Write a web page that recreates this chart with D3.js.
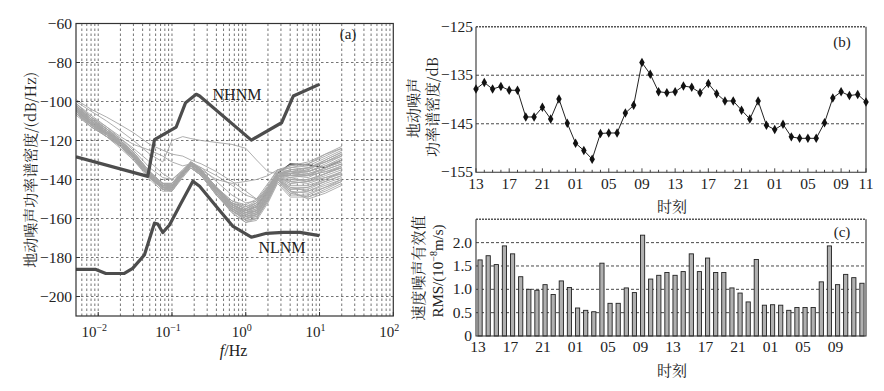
<!DOCTYPE html>
<html><head><meta charset="utf-8">
<script src="https://cdn.jsdelivr.net/npm/d3@7/dist/d3.min.js"></script>
<style>
body{margin:0;background:#fff}
svg{display:block}
text{font-family:"Liberation Serif","Times New Roman",serif;fill:#222}
.cjk{font-family:"Noto Serif CJK SC","Noto Sans CJK SC",sans-serif}
</style>
</head><body>
<svg id="chart" width="884" height="391"></svg>
<script>
// ---------- Panel (a) data ----------
const nhnmF  = [0.005, 0.047, 0.058, 0.114, 0.153, 0.213, 0.237, 1.19, 3.06, 4.41, 9.95];
const nhnmDB = [-128.4, -138.4, -119.5, -113.1, -100.6, -96.3, -97.2, -119.8, -110.9, -97.2, -91.2];
const nlnmF  = [0.005, 0.0093, 0.0127, 0.0226, 0.0293, 0.0423, 0.0578, 0.0642, 0.075, 0.0925, 0.133, 0.192, 0.237, 0.399, 0.673, 1.19, 1.91, 3.22, 5.43, 9.95];
const nlnmDB = [-186.1, -186.1, -188.2, -188.2, -185.6, -178.7, -162.4, -162.8, -167.2, -163.3, -152.1, -140.9, -143.5, -153.8, -164.1, -169.6, -167.6, -167.1, -167.1, -168.8];
const grayFreqs = [0.005, 0.008, 0.013, 0.02, 0.03, 0.05, 0.075, 0.1, 0.14, 0.18, 0.25, 0.4, 0.65, 1, 1.4, 2, 2.7, 4, 7, 12, 20];
const grayCurves = [
  [-102,-109,-115,-120,-127,-137,-142,-142,-136,-132,-135,-144,-151,-154,-152,-144,-136,-134,-133,-129,-125],
  [-104,-111,-116,-122,-128,-138,-144,-144,-137,-133,-137,-146,-154,-158,-157,-148,-139,-141,-140,-137,-134],
  [-106,-112,-117,-123,-129,-139,-145,-145,-138,-133,-137,-147,-156,-161,-160,-151,-141,-147,-146,-143,-140],
  [-103,-110,-115,-121,-127,-137,-143,-143,-137,-132,-136,-145,-153,-156,-153,-145,-137,-137,-136,-132,-128],
  [-105,-112,-117,-122,-128,-139,-145,-144,-138,-133,-137,-146,-155,-160,-159,-150,-140,-145,-145,-141,-138],
  [-101,-108,-114,-120,-126,-136,-142,-142,-135,-131,-135,-144,-152,-155,-152,-144,-136,-133,-132,-128,-124],
  [-107,-113,-118,-124,-130,-140,-146,-146,-139,-134,-138,-148,-157,-162,-161,-152,-142,-149,-149,-145,-141],
  [-104,-110,-116,-121,-128,-138,-143,-143,-137,-132,-136,-145,-152,-155,-152,-144,-137,-136,-135,-131,-127],
  [-105,-111,-117,-122,-129,-138,-144,-145,-138,-133,-137,-147,-155,-159,-158,-149,-139,-143,-143,-140,-137],
  [-103,-110,-116,-121,-127,-137,-143,-144,-137,-132,-136,-145,-154,-157,-155,-147,-138,-139,-138,-134,-131],
  [-106,-113,-118,-123,-130,-139,-145,-145,-138,-133,-138,-147,-156,-160,-159,-150,-140,-146,-147,-144,-141],
  [-102,-109,-115,-120,-126,-136,-142,-143,-136,-131,-135,-144,-152,-154,-151,-143,-135,-134,-132,-127,-123],
  [-104,-111,-117,-122,-128,-138,-144,-144,-137,-133,-137,-146,-153,-156,-154,-146,-138,-138,-137,-134,-130],
  [-105,-112,-116,-122,-129,-139,-144,-145,-138,-133,-137,-146,-155,-159,-157,-149,-140,-144,-144,-141,-138],
  [-103,-110,-115,-121,-127,-137,-143,-143,-136,-132,-136,-145,-153,-157,-155,-146,-137,-136,-134,-130,-126],
  [-106,-112,-118,-123,-129,-139,-145,-146,-138,-133,-138,-148,-156,-161,-160,-151,-141,-148,-148,-144,-140],
  [-104,-110,-116,-122,-128,-138,-143,-144,-137,-132,-136,-146,-154,-158,-156,-147,-138,-140,-140,-137,-134],
  [-102,-108,-114,-120,-126,-137,-142,-142,-136,-131,-135,-144,-151,-153,-150,-142,-135,-133,-131,-127,-124],
  [-103,-111,-117,-121,-128,-138,-144,-145,-137,-132,-136,-146,-155,-159,-157,-148,-138,-142,-141,-138,-135],
  [-104,-110,-115,-121,-127,-138,-143,-143,-136,-132,-136,-145,-153,-156,-153,-145,-137,-137,-138,-134,-131],
  [-105,-111,-117,-123,-129,-139,-144,-145,-138,-133,-137,-147,-156,-160,-158,-149,-139,-144,-146,-142,-139],
  [-102,-110,-116,-121,-127,-137,-142,-143,-136,-131,-135,-145,-153,-156,-154,-146,-137,-135,-134,-131,-127],
  [-106,-112,-118,-122,-129,-139,-145,-146,-138,-134,-138,-147,-157,-162,-160,-150,-140,-147,-149,-146,-142],
  [-103,-109,-115,-120,-127,-137,-143,-143,-136,-132,-136,-145,-152,-155,-153,-145,-137,-136,-136,-133,-129],
  [-105,-112,-117,-123,-128,-138,-144,-145,-137,-133,-137,-146,-154,-158,-156,-147,-138,-141,-142,-139,-136],
  [-104,-111,-116,-122,-128,-138,-144,-144,-137,-132,-136,-146,-155,-159,-158,-149,-139,-145,-144,-140,-136],
  [-103,-110,-116,-121,-128,-137,-143,-144,-137,-132,-136,-145,-154,-157,-156,-147,-138,-138,-139,-135,-132],
  [-105,-111,-116,-122,-129,-138,-144,-144,-138,-133,-137,-147,-155,-158,-156,-148,-139,-142,-141,-137,-133],
  [-101,-108,-113,-119,-125,-134,-139,-140,-135,-131,-134,-141,-148,-152,-151,-145,-137,-135,-134,-131,-128],
  [-104,-110,-115,-121,-128,-138,-143,-143,-137,-132,-136,-146,-154,-157,-154,-146,-137,-139,-141,-139,-137],
  [-106,-113,-117,-123,-129,-139,-145,-145,-138,-134,-138,-148,-156,-160,-158,-149,-140,-146,-150,-147,-143],
  [-102,-109,-114,-120,-126,-136,-142,-143,-136,-131,-135,-144,-153,-157,-156,-147,-137,-137,-135,-130,-126],
  [-99,-104,-108,-112,-116,-122,-125,-127,-128,-130,-132,-136,-141,-146,-150,-146,-139,-137,-136,-133,-130],
  [-100,-105,-110,-115,-120,-127,-131,-120,-118,-119,-120,-121,-122,-124,-130,-136,-137,-138,-137,-135,-132],
  [-101,-107,-113,-118,-122,-125,-128,-131,-133,-132,-134,-138,-143,-148,-150,-144,-137,-138,-138,-136,-133],
  [-103,-109,-114,-119,-124,-131,-137,-140,-136,-132,-135,-140,-142,-141,-140,-138,-135,-136,-138,-136,-134]
];
const darkCurve = [-104,-111,-116,-121,-128,-138,-144,-144,-137,-132,-136,-145,-153,-156,-154,-146,-137,-132,-132.5,-134,-130];
const aYTicks = [-60, -80, -100, -120, -140, -160, -180, -200];
const aXTicks = [0.01, 0.1, 1, 10, 100];
const aXExp = ["\u22122", "\u22121", "0", "1", "2"];

// ---------- Panel (b) / (c) data ----------
const psdDB = [-137.85,-136.5,-137.85,-137.3,-138.1,-138.1,-143.6,-143.6,-141.6,-144.0,-139.9,-144.9,
  -149.0,-150.5,-152.3,-147.0,-146.9,-146.9,-142.8,-141.2,-132.4,-134.8,-138.4,-138.6,
  -138.4,-137.2,-137.5,-138.6,-136.7,-138.8,-140.3,-140.3,-142.2,-144.0,-140.3,-145.3,
  -146.2,-145.1,-147.7,-148.0,-148.0,-148.0,-144.8,-139.7,-138.4,-139.2,-138.95,-140.5];
const rmsVel = [1.63,1.72,1.53,1.93,1.76,1.27,1.00,0.98,1.10,0.89,1.18,1.04,
  0.60,0.55,0.52,1.56,0.70,0.70,1.03,0.93,2.16,1.22,1.30,1.36,
  1.30,1.38,1.76,1.38,1.67,1.36,1.36,1.03,0.92,0.73,1.64,0.66,
  0.67,0.66,0.55,0.61,0.61,0.61,1.16,1.93,1.10,1.32,1.25,1.13];
const bTickIdx = [0,4,8,12,16,20,24,28,32,36,40,44,47];
const bTickLabels = ["13","17","21","01","05","09","13","17","21","01","05","09","11"];
const cTickIdx = [0,4,8,12,16,20,24,28,32,36,40,44];
const cTickLabels = ["13","17","21","01","05","09","13","17","21","01","05","09"];
const bYTicks = [-125, -135, -145, -155];
const bGrid = [-135, -145];
const cYTicks = [0, 0.5, 1.0, 1.5, 2.0];
const cYLabels = ["0", "0.5", "1.0", "1.5", "2.0"];

const svg = d3.select("#chart");
const fmtMinus = v => String(v).replace("-", "\u2212");

// ================= Panel (a) =================
(function(){
  const L=76, R=393.3, T=23.5, B=316;
  const x = d3.scaleLog().domain([0.005, 100]).range([L, R]);
  const y = d3.scaleLinear().domain([-210, -60]).range([B, T]);
  const g = svg.append("g");
  svg.append("defs").append("clipPath").attr("id","clipA")
    .append("rect").attr("x",L).attr("y",T).attr("width",R-L).attr("height",B-T);
  const vlines = [];
  for (let e=-3; e<=1; e++) for (let k=1; k<=9; k++) {
    const v = k*Math.pow(10,e);
    if (v > 0.005*1.001 && v < 100*0.999) vlines.push(v);
  }
  g.selectAll(".vg").data(vlines).join("line")
    .attr("x1", d=>x(d)).attr("x2", d=>x(d)).attr("y1", T).attr("y2", B)
    .attr("stroke", "#3a3a3a").attr("stroke-width", 0.7).attr("stroke-dasharray", "2.5,2.5");
  g.selectAll(".hg").data(aYTicks.slice(1)).join("line")
    .attr("x1", L).attr("x2", R).attr("y1", d=>y(d)).attr("y2", d=>y(d))
    .attr("stroke", "#3a3a3a").attr("stroke-width", 0.7).attr("stroke-dasharray", "2.5,2.5");

  const cg = g.append("g").attr("clip-path","url(#clipA)");
  const line = d3.line().x(d=>x(d[0])).y(d=>y(d[1]));
  cg.append("path").datum(grayFreqs.map((f,i)=>[f, darkCurve[i]]))
    .attr("d", line).attr("fill","none").attr("stroke","#444").attr("stroke-width",1.1);
  cg.selectAll(".gc").data(grayCurves).join("path")
    .attr("d", c => line(grayFreqs.map((f,i)=>[f, c[i]])))
    .attr("fill","none").attr("stroke","#a6a6a6").attr("stroke-width",0.9);
  cg.append("path").datum(nhnmF.map((f,i)=>[f, nhnmDB[i]]))
    .attr("d", line).attr("fill","none").attr("stroke","#4d4d4d").attr("stroke-width",3.2).attr("stroke-linejoin","round");
  cg.append("path").datum(nlnmF.map((f,i)=>[f, nlnmDB[i]]))
    .attr("d", line).attr("fill","none").attr("stroke","#4d4d4d").attr("stroke-width",3.2).attr("stroke-linejoin","round");

  g.append("rect").attr("x",L).attr("y",T).attr("width",R-L).attr("height",B-T)
    .attr("fill","none").attr("stroke","#333").attr("stroke-width",1.2);
  g.selectAll(".yt").data(aYTicks).join("line")
    .attr("x1",L).attr("x2",L+4).attr("y1",d=>y(d)).attr("y2",d=>y(d)).attr("stroke","#333");
  g.selectAll(".xt").data(aXTicks).join("line")
    .attr("x1",d=>x(d)).attr("x2",d=>x(d)).attr("y1",B).attr("y2",B-4).attr("stroke","#333");
  g.selectAll(".yl").data(aYTicks).join("text")
    .attr("x", L-4).attr("y", d=>y(d)+5).attr("text-anchor","end").attr("font-size",15.5)
    .text(fmtMinus);
  const xl = g.selectAll(".xl").data(aXTicks).join("text")
    .attr("x", d=>x(d)-4).attr("y", 337).attr("text-anchor","middle").attr("font-size",15);
  xl.append("tspan").text("10");
  xl.append("tspan").attr("dy",-6).attr("font-size",10).text((d,i)=>aXExp[i]);

  const xt = g.append("text").attr("x",(L+R)/2-1).attr("y",356).attr("text-anchor","middle").attr("font-size",16);
  xt.append("tspan").attr("font-style","italic").text("f");
  xt.append("tspan").text("/Hz");
  g.append("text").attr("class","cjk").attr("transform",`translate(36,${(T+B)/2}) rotate(-90)`)
    .attr("text-anchor","middle").attr("font-size",15).attr("fill","#333")
    .text("地动噪声功率谱密度/(dB/Hz)");
  g.append("text").attr("x",348).attr("y",39).attr("text-anchor","middle").attr("font-size",15).text("(a)");
  g.append("text").attr("x",237).attr("y",100).attr("text-anchor","middle").attr("font-size",16).text("NHNM");
  g.append("text").attr("x",282).attr("y",253).attr("text-anchor","middle").attr("font-size",16).text("NLNM");
})();

// ================= Panel (b) =================
(function(){
  const L=476, R=866, T=26.7, B=172.3;
  const x = d3.scalePoint().domain(d3.range(psdDB.length)).range([L, R]);
  const y = d3.scaleLinear().domain([-155, -125]).range([B, T]);
  const g = svg.append("g");
  g.selectAll(".bg").data(bGrid).join("line")
    .attr("x1",L).attr("x2",R).attr("y1",d=>y(d)).attr("y2",d=>y(d))
    .attr("stroke","#333").attr("stroke-width",0.9).attr("stroke-dasharray","3,2");
  g.append("line").attr("x1",L).attr("x2",R).attr("y1",T).attr("y2",T)
    .attr("stroke","#555").attr("stroke-width",1.4).attr("stroke-dasharray","2,1");
  g.append("path").attr("d", `M${L},${T}V${B}H${R}V${T}`)
    .attr("fill","none").attr("stroke","#333").attr("stroke-width",1.1);
  g.selectAll(".mt").data(d3.range(psdDB.length)).join("line")
    .attr("x1",d=>x(d)).attr("x2",d=>x(d)).attr("y1",B).attr("y2",d=>B-(bTickIdx.includes(d)?4:2.5))
    .attr("stroke","#333").attr("stroke-width",0.9);
  g.append("path").datum(psdDB)
    .attr("d", d3.line().x((d,i)=>x(i)).y(d=>y(d)))
    .attr("fill","none").attr("stroke","#222").attr("stroke-width",1);
  g.selectAll(".pt").data(psdDB).join("path")
    .attr("transform",(d,i)=>`translate(${x(i)},${y(d)})`)
    .attr("d", d3.symbol(d3.symbolDiamond, 26)).attr("fill","#111");
  g.selectAll(".yl").data(bYTicks).join("text")
    .attr("x",L-3).attr("y",d=>y(d)+5).attr("text-anchor","end").attr("font-size",15.5).text(fmtMinus);
  g.selectAll(".xl").data(bTickIdx).join("text")
    .attr("x",d=>x(d)).attr("y",189).attr("text-anchor","middle").attr("font-size",15.5)
    .text((d,i)=>bTickLabels[i]);
  g.append("text").attr("class","cjk").attr("x",(L+R)/2+1).attr("y",212).attr("text-anchor","middle")
    .attr("font-size",15).text("时刻");
  g.append("text").attr("class","cjk").attr("transform",`translate(419,108) rotate(-90)`)
    .attr("text-anchor","middle").attr("font-size",15).attr("fill","#333").text("地动噪声");
  g.append("text").attr("class","cjk").attr("transform",`translate(438,107) rotate(-90)`)
    .attr("text-anchor","middle").attr("font-size",15).attr("fill","#333").text("功率谱密度/dB");
  g.append("text").attr("x",842).attr("y",47).attr("text-anchor","middle").attr("font-size",15).text("(b)");
})();

// ================= Panel (c) =================
(function(){
  const L=476, R=866, T=219.3, B=336;
  const x = d3.scaleBand().domain(d3.range(rmsVel.length)).range([L, R]).paddingInner(0.48).paddingOuter(0.24);
  const y = d3.scaleLinear().domain([0, 2.5]).range([B, T]);
  const g = svg.append("g");
  g.selectAll(".cg").data(cYTicks.slice(1)).join("line")
    .attr("x1",L).attr("x2",R).attr("y1",d=>y(d)).attr("y2",d=>y(d))
    .attr("stroke","#333").attr("stroke-width",0.9).attr("stroke-dasharray","3,2");
  g.selectAll(".bar").data(rmsVel).join("rect")
    .attr("x",(d,i)=>x(i)).attr("width",x.bandwidth())
    .attr("y",d=>y(d)).attr("height",d=>B-y(d))
    .attr("fill","#b0b0b0").attr("stroke","#222").attr("stroke-width",0.9);
  g.append("line").attr("x1",L).attr("x2",R).attr("y1",T).attr("y2",T)
    .attr("stroke","#555").attr("stroke-width",1.4).attr("stroke-dasharray","2,1");
  g.append("path").attr("d", `M${L},${T}V${B}H${R}V${T}`)
    .attr("fill","none").attr("stroke","#333").attr("stroke-width",1.1);
  g.selectAll(".yl").data(cYTicks).join("text")
    .attr("x",L-4).attr("y",d=>y(d)+5).attr("text-anchor","end").attr("font-size",15.5)
    .text((d,i)=>cYLabels[i]);
  g.selectAll(".xl").data(cTickIdx).join("text")
    .attr("x",d=>x(d)+x.bandwidth()/2-2).attr("y",352).attr("text-anchor","middle").attr("font-size",15.5)
    .text((d,i)=>cTickLabels[i]);
  g.append("text").attr("class","cjk").attr("x",(L+R)/2+1).attr("y",376).attr("text-anchor","middle")
    .attr("font-size",15).text("时刻");
  g.append("text").attr("class","cjk").attr("transform",`translate(424,268) rotate(-90)`)
    .attr("text-anchor","middle").attr("font-size",15).attr("fill","#333").text("速度噪声有效值");
  const t2 = g.append("text").attr("transform",`translate(443,271) rotate(-90)`)
    .attr("text-anchor","middle").attr("font-size",15).attr("fill","#333");
  t2.append("tspan").text("RMS/(10");
  t2.append("tspan").attr("dy",-6).attr("font-size",10).text("\u22128");
  t2.append("tspan").attr("dy",6).text("m/s)");
  g.append("text").attr("x",842).attr("y",237).attr("text-anchor","middle").attr("font-size",15).text("(c)");
})();
</script>
</body></html>
